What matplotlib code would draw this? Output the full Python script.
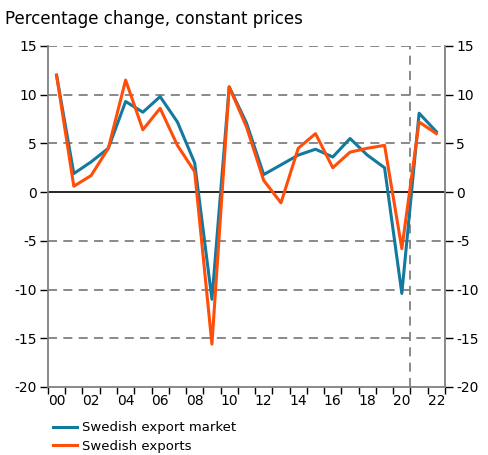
import numpy as np
import matplotlib.pyplot as plt
from matplotlib.ticker import FixedLocator

plt.rcParams['axes.unicode_minus'] = False

years = list(range(2000, 2023))
export_market = [12.0, 1.9, 3.1, 4.5, 9.3, 8.2, 9.8, 7.2, 3.0, -11.0, 10.8, 7.1,
                 1.8, 2.8, 3.8, 4.4, 3.6, 5.5, 3.8, 2.5, -10.4, 8.1, 6.2]
exports = [12.0, 0.6, 1.7, 4.5, 11.5, 6.4, 8.6, 4.8, 2.1, -15.6, 10.8, 6.7,
           1.2, -1.1, 4.5, 6.0, 2.5, 4.1, 4.5, 4.8, -5.8, 7.2, 6.0]
tick_labels = ["%02d" % (y % 100) for y in years if y % 2 == 0]

blue = "#14799e"
orange = "#ff4e0a"
grey = "#808080"

fig = plt.figure(figsize=(4.89, 4.55), dpi=100)
ax = fig.add_axes([0.098, 0.1495, 0.812, 0.7495])

x = np.arange(len(years))
ax.plot(x, export_market, color=blue, lw=2.2, label="Swedish export market", zorder=4)
ax.plot(x, exports, color=orange, lw=2.2, label="Swedish exports", zorder=5)

for v in [15, 10, 5, -5, -10, -15]:
    ax.axhline(v, color=grey, lw=1.3, dashes=(5, 3.5), zorder=1)
ax.axhline(0, color="black", lw=1.2, zorder=2)
ax.axvline(20.5, color=grey, lw=1.3, dashes=(5, 3.5), zorder=1)

ax.set_xlim(-0.5, 22.5)
ax.set_ylim(-20, 15)

ax.spines["top"].set_visible(False)
for s in ["left", "right", "bottom"]:
    ax.spines[s].set_color(grey)
    ax.spines[s].set_linewidth(1.3)

ax.set_xticks(x[::2])
ax.set_xticklabels(tick_labels)
ax.xaxis.set_minor_locator(FixedLocator(np.arange(-0.5, 23, 1)))
ax.tick_params(axis="x", which="major", length=0, labelsize=10, pad=5)
ax.tick_params(axis="x", which="minor", direction="out", length=5, width=1, color="black")

ax.set_yticks(range(-20, 16, 5))
ax.tick_params(axis="y", which="major", direction="out", length=6, width=1, color="black",
               labelsize=10, left=True, right=True, labelleft=True, labelright=True, pad=2)

fig.text(0.01, 0.958, "Percentage change, constant prices", fontsize=12, va="center")

ax.legend(loc="upper left", bbox_to_anchor=(0.0, -0.085), frameon=False, fontsize=9.5,
          handlelength=1.8, handletextpad=0.4, labelspacing=0.4, borderaxespad=0)

fig.savefig("out.png", dpi=100)
